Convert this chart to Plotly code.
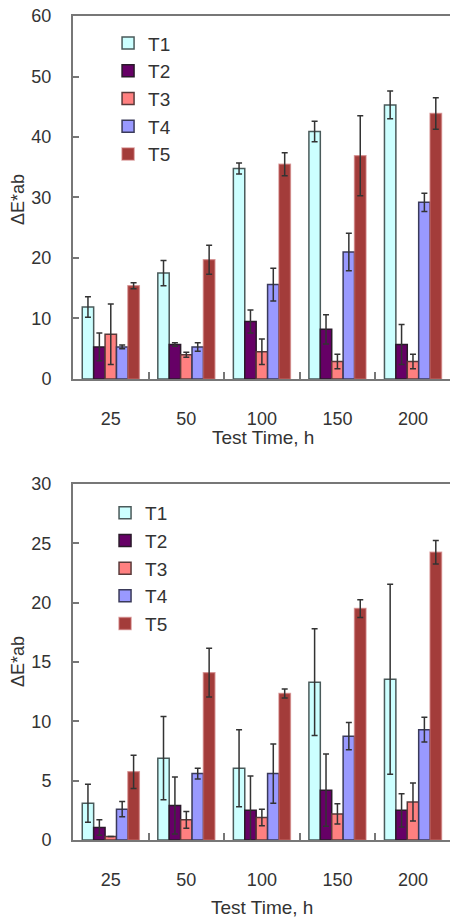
import plotly.graph_objects as go

categories = ["25", "50", "100", "150", "200"]
series_names = ["T1", "T2", "T3", "T4", "T5"]

# Top chart values and error bars
top_T1 = [11.9, 17.5, 34.8, 40.9, 45.3]
top_T2 = [5.3, 5.7, 9.5, 8.2, 5.7]
top_T3 = [7.4, 4.0, 4.5, 2.9, 2.9]
top_T4 = [5.3, 5.3, 15.6, 21.0, 29.2]
top_T5 = [15.4, 19.7, 35.5, 36.9, 43.9]
top_err_T1 = [1.7, 2.1, 0.9, 1.7, 2.3]
top_err_T2 = [2.3, 0.3, 1.9, 2.4, 3.3]
top_err_T3 = [5.0, 0.4, 2.1, 1.2, 1.2]
top_err_T4 = [0.3, 0.7, 2.7, 3.1, 1.5]
top_err_T5 = [0.5, 2.4, 1.9, 6.6, 2.6]

# Bottom chart values and error bars
bot_T1 = [3.1, 6.9, 6.05, 13.3, 13.55]
bot_T2 = [1.05, 2.9, 2.5, 4.2, 2.5]
bot_T3 = [0.3, 1.7, 1.9, 2.2, 3.2]
bot_T4 = [2.6, 5.6, 5.6, 8.75, 9.3]
bot_T5 = [5.75, 14.1, 12.35, 19.5, 24.25]
bot_err_T1 = [1.6, 3.5, 3.25, 4.5, 8.0]
bot_err_T2 = [0.65, 2.4, 2.9, 3.05, 1.4]
bot_err_T3 = [0.0, 0.7, 0.7, 0.85, 1.6]
bot_err_T4 = [0.65, 0.45, 2.5, 1.15, 1.05]
bot_err_T5 = [1.4, 2.05, 0.38, 0.75, 1.0]

colors = ["#ccffff", "#660066", "#ff8080", "#9999ff", "#a33c3a"]
outline = ["#4a5a5a", "#2a1a2a", "#5a3a3a", "#3a3a5a", "rgba(200,110,110,0.6)"]

FONT = "Liberation Sans, Arial, sans-serif"
TXT = "#333333"
AX = "#777777"

fig = go.Figure()

top_vals = [top_T1, top_T2, top_T3, top_T4, top_T5]
top_errs = [top_err_T1, top_err_T2, top_err_T3, top_err_T4, top_err_T5]
bot_vals = [bot_T1, bot_T2, bot_T3, bot_T4, bot_T5]
bot_errs = [bot_err_T1, bot_err_T2, bot_err_T3, bot_err_T4, bot_err_T5]

for i, name in enumerate(series_names):
    fig.add_trace(go.Bar(
        x=categories, y=top_vals[i], name=name,
        marker=dict(color=colors[i], line=dict(color=outline[i], width=1.5)),
        error_y=dict(type="data", array=top_errs[i], color="#333333", thickness=1.5, width=3),
        xaxis="x", yaxis="y", legend="legend",
    ))
for i, name in enumerate(series_names):
    fig.add_trace(go.Bar(
        x=categories, y=bot_vals[i], name=name,
        marker=dict(color=colors[i], line=dict(color=outline[i], width=1.5)),
        error_y=dict(type="data", array=bot_errs[i], color="#333333", thickness=1.5, width=3),
        xaxis="x2", yaxis="y2", legend="legend2",
    ))

xcommon = dict(
    type="category", range=[-0.5, 4.49], showline=True, linecolor=AX, linewidth=2,
    mirror=True, ticks="inside", tickson="boundaries", ticklen=7, tickcolor=AX,
    tickwidth=1.5, showgrid=False, zeroline=False, ticklabelstandoff=22,
    tickfont=dict(family=FONT, size=18, color=TXT),
)
ycommon = dict(
    showline=True, linecolor=AX, linewidth=2, ticks="inside", ticklen=6,
    tickcolor=AX, tickwidth=1.5, showgrid=False, zeroline=False,
    ticklabelstandoff=16, tickfont=dict(family=FONT, size=18, color=TXT),
)

fig.update_layout(
    width=450, height=918,
    margin=dict(l=73, r=0, t=16, b=78),
    paper_bgcolor="white", plot_bgcolor="white",
    barmode="group", bargap=0.245, bargroupgap=0,
    showlegend=True,
    xaxis=dict(domain=[0, 1], anchor="y", **xcommon),
    xaxis2=dict(domain=[0, 1], anchor="y2", **xcommon),
    yaxis=dict(domain=[0.5595, 1], anchor="x", range=[0, 60], dtick=10, **ycommon),
    yaxis2=dict(domain=[0, 0.432], anchor="x2", range=[0, 30], dtick=5, **ycommon),
    legend=dict(x=0.093, y=0.99, xanchor="left", yanchor="top",
                font=dict(family=FONT, size=19, color=TXT), bgcolor="rgba(0,0,0,0)",
                tracegroupgap=0),
    legend2=dict(x=0.085, y=0.42, xanchor="left", yanchor="top",
                 font=dict(family=FONT, size=19, color=TXT), bgcolor="rgba(0,0,0,0)",
                 tracegroupgap=0),
    annotations=[
        dict(text="Test Time, h", xref="paper", yref="paper", x=0.504, y=0.489,
             showarrow=False, font=dict(family=FONT, size=19, color=TXT),
             xanchor="center", yanchor="middle"),
        dict(text="Test Time, h", xref="paper", yref="paper", x=0.5, y=-0.0825,
             showarrow=False, font=dict(family=FONT, size=19, color=TXT),
             xanchor="center", yanchor="middle"),
        dict(text="ΔE*ab", xref="paper", yref="paper", x=0, y=(840 - 200) / 824,
             xshift=-55, textangle=-90, showarrow=False,
             font=dict(family=FONT, size=18, color=TXT), xanchor="center", yanchor="middle"),
        dict(text="ΔE*ab", xref="paper", yref="paper", x=0, y=(840 - 662) / 824,
             xshift=-55, textangle=-90, showarrow=False,
             font=dict(family=FONT, size=18, color=TXT), xanchor="center", yanchor="middle"),
    ],
)

fig.write_html(
    "out.html",
    config={"displayModeBar": False},
    post_script="document.body.style.margin='0';document.body.style.overflow='hidden';",
)
